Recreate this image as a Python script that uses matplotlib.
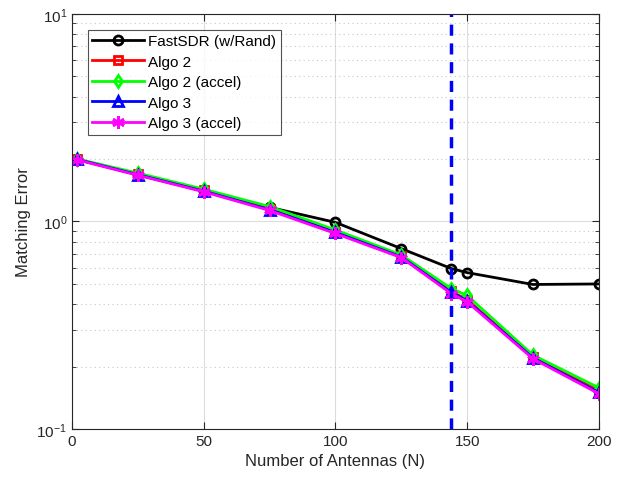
import matplotlib
matplotlib.use("Agg")
import matplotlib.pyplot as plt
from matplotlib.ticker import LogLocator, NullFormatter

plt.rcParams['font.family'] = ['Liberation Sans', 'DejaVu Sans']
plt.rcParams['mathtext.fontset'] = 'custom'
plt.rcParams['mathtext.rm'] = 'Liberation Sans'

n_antennas = [2, 25, 50, 75, 100, 125, 144, 150, 175, 200]
fastsdr = [1.99, 1.68, 1.40, 1.17, 0.99, 0.74, 0.593, 0.567, 0.497, 0.50]
algo2 = [1.99, 1.69, 1.41, 1.15, 0.89, 0.68, 0.46, 0.42, 0.222, 0.153]
algo2_accel = [2.00, 1.71, 1.43, 1.18, 0.91, 0.69, 0.475, 0.44, 0.227, 0.158]
algo3 = [1.99, 1.68, 1.40, 1.14, 0.885, 0.675, 0.455, 0.415, 0.22, 0.15]
algo3_accel = [1.98, 1.67, 1.39, 1.13, 0.875, 0.67, 0.449, 0.41, 0.218, 0.148]
threshold_n = 144

asterisk = (6, 2, 0)
series = [
    ("FastSDR (w/Rand)", fastsdr, 'k', 'o', 6.5),
    ("Algo 2", algo2, '#ff0000', 's', 6),
    ("Algo 2 (accel)", algo2_accel, '#00ff00', 'd', 6.5),
    ("Algo 3", algo3, '#0000ff', '^', 6.5),
    ("Algo 3 (accel)", algo3_accel, '#ff00ff', asterisk, 9),
]

fig = plt.figure(figsize=(6.18, 4.81), dpi=100)
ax = fig.add_axes([0.1165, 0.106, 0.8525, 0.863])

for label, vals, color, marker, ms in series:
    ax.plot(n_antennas, vals, color=color, lw=2, marker=marker,
            markersize=ms, markerfacecolor='none',
            markeredgecolor=color, markeredgewidth=2, label=label)

ax.axvline(threshold_n, color='#0000ff', lw=2.5, ls=(0, (3.2, 2.2)))

ax.set_yscale('log')
ax.set_xlim(0, 200)
ax.set_ylim(0.1, 10)
ax.set_xticks([0, 50, 100, 150, 200])
ax.yaxis.set_major_locator(LogLocator(base=10))
ax.yaxis.set_minor_locator(LogLocator(base=10, subs=range(2, 10)))
ax.yaxis.set_minor_formatter(NullFormatter())

ax.grid(True, which='major', color='#dcdcdc', lw=0.8, ls='-')
ax.grid(True, which='minor', axis='y', color='#c8c8c8', lw=0.8, ls=(0, (1, 3)))
ax.set_axisbelow(True)

ax.tick_params(which='both', direction='in', top=True, right=True,
               labelsize=11, colors='#262626')
ax.tick_params(which='major', length=5)
ax.tick_params(which='minor', length=3)
for sp in ax.spines.values():
    sp.set_color('#262626')
    sp.set_linewidth(0.8)

ax.set_xlabel('Number of Antennas (N)', fontsize=12, color='#262626')
ax.set_ylabel('Matching Error', fontsize=12, color='#262626')

leg = ax.legend(loc='upper left', bbox_to_anchor=(0.03, 0.962), fontsize=11,
                frameon=True, fancybox=False, edgecolor='#262626',
                handlelength=3.4, borderpad=0.3, labelspacing=0.42,
                handletextpad=0.25, borderaxespad=0)
leg.get_frame().set_linewidth(0.8)

fig.savefig('out.png', dpi=100)
